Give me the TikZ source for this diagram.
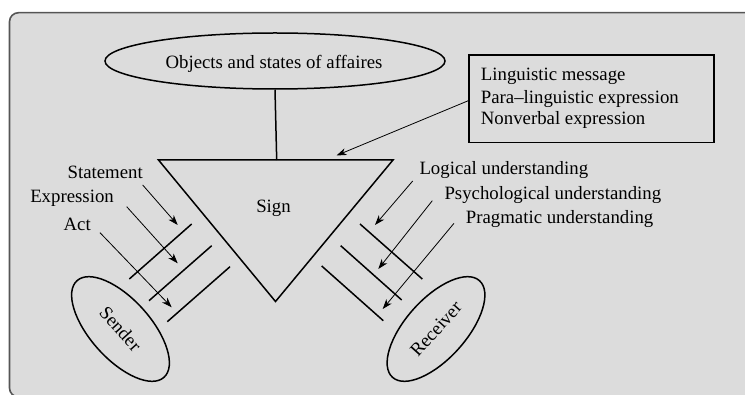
\documentclass[tikz,border=0pt]{standalone}
\usepackage{fontspec}
\setmainfont{Liberation Serif}
\usetikzlibrary{shapes.geometric,arrows.meta}
\definecolor{bgfill}{RGB}{220,220,220}
\definecolor{framec}{RGB}{85,85,85}
\begin{document}
\begin{tikzpicture}[x=1pt,y=-1pt,
  every node/.style={font=\fontsize{18.8}{22}\selectfont, inner sep=0pt},
  thick line/.style={line width=1.5pt, line join=miter},
  arr/.style={line width=0.8pt, -{Stealth[length=10pt,width=7pt,inset=3pt]}},
  bar/.style={line width=1.5pt},
  ell/.style={ellipse, draw, line width=1.5pt}]
\useasboundingbox (0,0) rectangle (745,395);
\clip (0,0) rectangle (745,395);
% frame
\draw[framec, line width=1.6pt, fill=bgfill, rounded corners=9pt] (9.5,12.7) rectangle (770,397);
% top ellipse
\node[ell, minimum width=340pt, minimum height=56pt] (obj) at (275,61) {};
\node[anchor=base] (objt) at (274,68.3) {Objects and states of affaires};
% triangle
\coordinate (tl) at (158.5,160);
\coordinate (tr) at (393,160);
\coordinate (ap) at (275.5,301.5);
\coordinate (tm) at (276.7,160);
\draw[thick line] (tl) -- (tr) -- (ap) -- cycle;
\draw[thick line] (obj.south) -- (tm);
\node[anchor=base] (sign) at (273.5,212.3) {Sign};
% box
\node[draw, line width=1.5pt, minimum width=245pt, minimum height=87.4pt, anchor=north west] (box) at (468.3,54.3) {};
\node[anchor=base west] (l1) at (480.7,81) {Linguistic message};
\node[anchor=base west] (l2) at (480.7,103.3) {Para--linguistic expression};
\node[anchor=base west] (l3) at (480.7,125) {Nonverbal expression};
\coordinate (boxa) at (box.west |- 0,100.7);
\coordinate (tri) at (336.5,155.5);
\draw[arr] (boxa) -- (tri);
% left labels
\node[anchor=base east] (st) at (143,178.5) {Statement};
\node[anchor=base east] (ex) at (114,202.5) {Expression};
\node[anchor=base east] (ac) at (91,231) {Act};
\coordinate (s1) at (142.7,185); \coordinate (s2) at (177.7,225);
\coordinate (e1) at (126.7,206.7); \coordinate (e2) at (177.7,263.3);
\coordinate (a1) at (100,232.7); \coordinate (a2) at (171.7,307.3);
\draw[arr] (s1) -- (s2);
\draw[arr] (e1) -- (e2);
\draw[arr] (a1) -- (a2);
\coordinate (lb1a) at (129.3,279); \coordinate (lb1b) at (191.7,224);
\coordinate (lb2a) at (149,300.7); \coordinate (lb2b) at (211.7,245.7);
\coordinate (lb3a) at (167.3,321.7); \coordinate (lb3b) at (230,266.7);
\draw[bar] (lb1a) -- (lb1b);
\draw[bar] (lb2a) -- (lb2b);
\draw[bar] (lb3a) -- (lb3b);
% right labels
\node[anchor=base west] (lo) at (419.3,174.3) {Logical understanding};
\node[anchor=base west] (ps) at (444.3,200) {Psychological understanding};
\node[anchor=base west] (pr) at (465.7,224) {Pragmatic understanding};
\coordinate (r1) at (412.7,181); \coordinate (r1e) at (375,225);
\coordinate (r2) at (432.3,200.7); \coordinate (r2e) at (378.3,269);
\coordinate (r3) at (454,223.3); \coordinate (r3e) at (382.7,309);
\draw[arr] (r1) -- (r1e);
\draw[arr] (r2) -- (r2e);
\draw[arr] (r3) -- (r3e);
\coordinate (rb1a) at (360,224); \coordinate (rb1b) at (422.3,279);
\coordinate (rb2a) at (340.7,245.7); \coordinate (rb2b) at (401.7,300);
\coordinate (rb3a) at (321.7,266); \coordinate (rb3b) at (383.3,320.7);
\draw[bar] (rb1a) -- (rb1b);
\draw[bar] (rb2a) -- (rb2b);
\draw[bar] (rb3a) -- (rb3b);
% sender / receiver
\node[ell, minimum width=130pt, minimum height=60pt, rotate=-48] (sender) at (120.5,329) {Sender};
\node[ell, minimum width=130pt, minimum height=60pt, rotate=48] (receiver) at (436,329) {Receiver};
\end{tikzpicture}
\end{document}
